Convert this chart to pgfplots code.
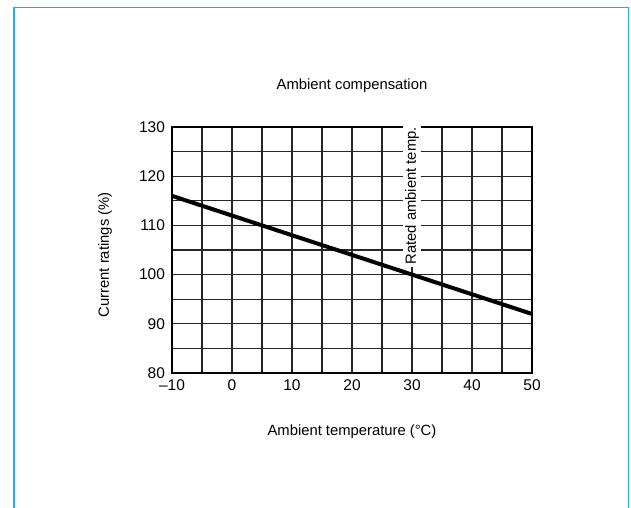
\documentclass[border=0pt]{standalone}
\usepackage{pgfplots}
\pgfplotsset{compat=1.18}
\usepackage{fontspec}
\setmainfont{Liberation Sans}
\definecolor{framecol}{RGB}{40,170,228}
\begin{document}
\begin{tikzpicture}[x=1pt,y=1pt]
\useasboundingbox (0,0) rectangle (631,508);
\draw[framecol,line width=1.8pt] (14.2,0) -- (14.2,500.5) -- (628.5,500.5) -- (628.5,0);
\begin{axis}[
  at={(172pt,135pt)}, anchor=south west,
  scale only axis, width=360pt, height=246pt,
  xmin=-10, xmax=50, ymin=80, ymax=130,
  xtick={-10,0,10,20,30,40,50},
  xticklabels={\textendash10,0,10,20,30,40,50},
  ytick={80,90,100,110,120,130},
  minor x tick num=1, minor y tick num=1,
  grid=both,
  major grid style={black!85,line width=1.2pt},
  minor grid style={black!85,line width=1.2pt},
  major tick length=0pt, minor tick length=0pt,
  axis line style={black,line width=2pt},
  tick label style={font=\fontsize{15.5}{18}\selectfont},
  xticklabel style={yshift=-3.5pt},
  yticklabel style={xshift=-3.5pt},
  /pgf/number format/assume math mode=true,
  title={Ambient compensation},
  title style={font=\fontsize{14.8}{17}\selectfont, at={(axis description cs:0.5,1.142)}, anchor=center},
  xlabel={Ambient temperature (\textdegree C)},
  xlabel style={font=\fontsize{14.8}{17}\selectfont, at={(axis description cs:0.5,-0.24)}, anchor=center},
  ylabel={Current ratings (\%)},
  ylabel style={font=\fontsize{14.8}{17}\selectfont, at={(axis description cs:-0.186,0.48)}, anchor=center, rotate=0},
  clip=false,
]
\node[fill=white, rotate=90, inner sep=2.5pt, font=\fontsize{14.8}{17}\selectfont] at (axis cs:30,116.0) {Rated ambient temp.};
\addplot[black, line width=4pt, line cap=butt] coordinates {(-10,116) (50,92)};
\end{axis}
\end{tikzpicture}
\end{document}
